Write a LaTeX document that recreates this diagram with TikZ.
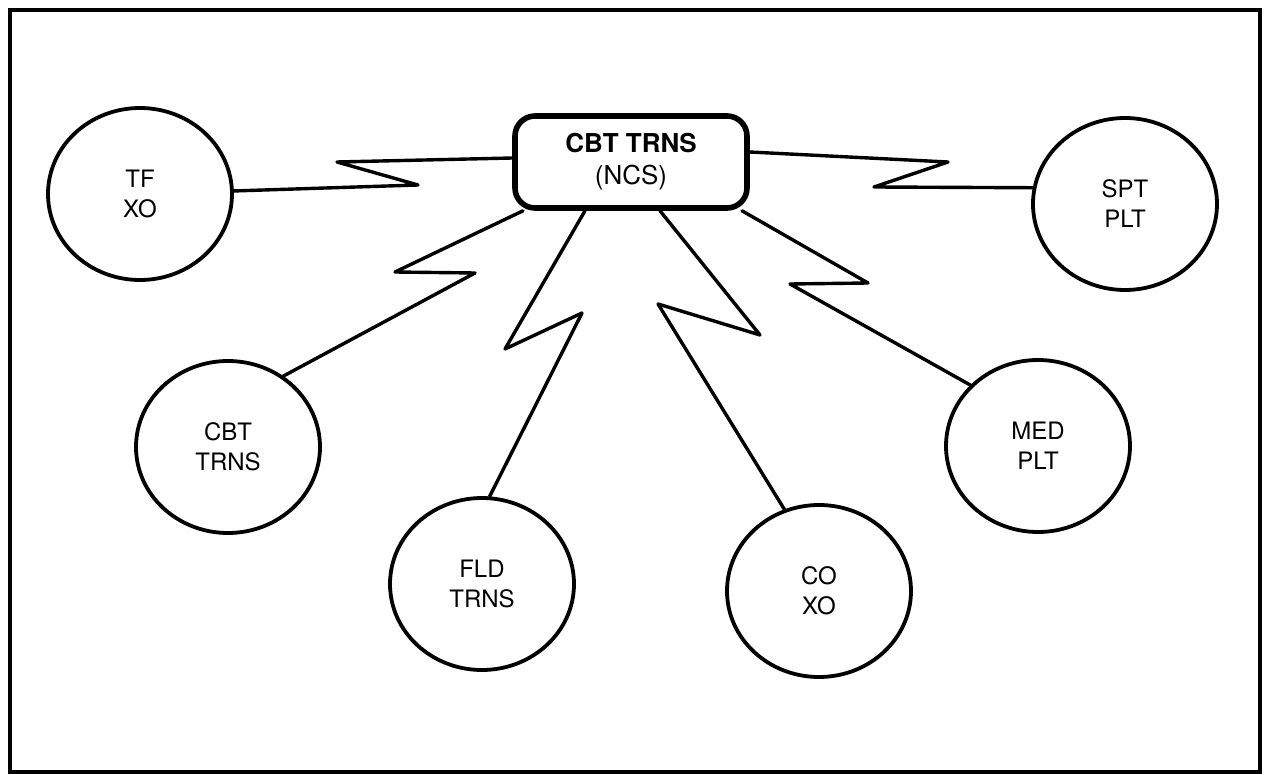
\documentclass[tikz,border=0pt]{standalone}
\usepackage{fontspec}
\setmainfont{TeX Gyre Heros}
\usetikzlibrary{shapes.geometric,calc}

\begin{document}
\begin{tikzpicture}[x=0.5pt, y=-0.5pt,
  site/.style={ellipse, draw, line width=1.9pt, minimum width=92pt, minimum height=86pt, inner sep=0pt, align=center, font=\fontsize{12}{15}\selectfont},
  hub/.style={draw, rounded corners=10pt, line width=2.8pt, minimum width=116pt, minimum height=46pt, align=center, font=\fontsize{13}{16}\selectfont},
  link/.style={line width=1.7pt, line join=round, line cap=round}]
\useasboundingbox (0,0) rectangle (1265,775);
\draw[line width=2.4pt] (10,10) rectangle (1260,772);
\node[hub] (ncs) at (631,162) {\textbf{CBT TRNS}\\(NCS)};
\node[site] (tfxo) at (140,194) {TF\\XO};
\node[site] (spt) at (1125,204) {SPT\\PLT};
\node[site] (cbt) at (228,447) {CBT\\TRNS};
\node[site] (med) at (1038,446) {MED\\PLT};
\node[site] (fld) at (482,584) {FLD\\TRNS};
\node[site] (coxo) at (819,591) {CO\\XO};
\draw[link] (tfxo) -- (418,185) -- (337,162) -- ($(ncs.west)+(0,-4)$);
\draw[link] ($(ncs.east)+(0,-10)$) -- (948,162) -- (874,187) -- (spt.170);
\draw[link] ($(ncs.south)+(-108,0)$) -- (395,272) -- (475,273) -- (cbt.52);
\draw[link] ($(ncs.south)+(-46,0)$) -- (505,349) -- (582,313) -- (fld.85);
\draw[link] ($(ncs.south)+(29,0)$) -- (760,335) -- (658,304) -- (coxo.113);
\draw[link] ($(ncs.south)+(111,0)$) -- (868,283) -- (790,284) -- (med.138);
\end{tikzpicture}
\end{document}
